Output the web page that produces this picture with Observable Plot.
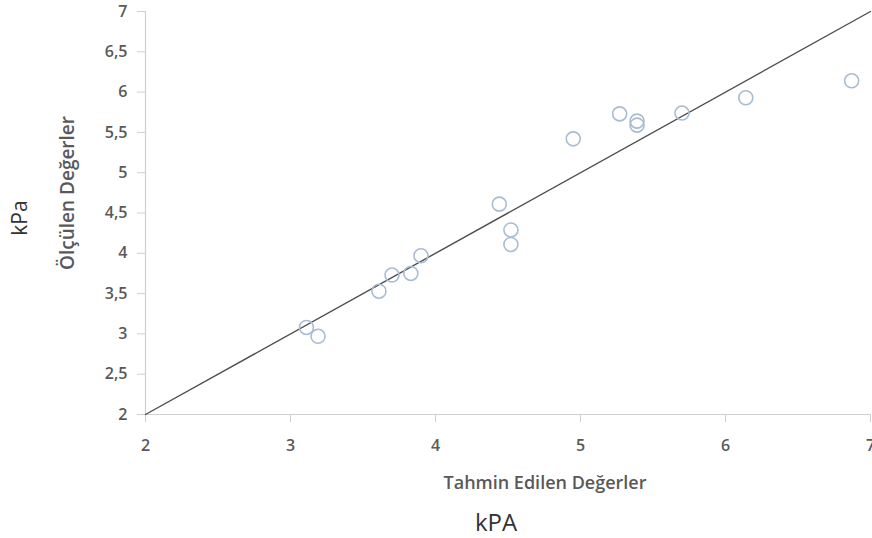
<!DOCTYPE html>
<html>
<head>
<meta charset="utf-8">
<script src="https://cdn.jsdelivr.net/npm/d3@7"></script>
<script src="https://cdn.jsdelivr.net/npm/@observablehq/plot@0.6"></script>
<style>
  html, body { margin: 0; padding: 0; background: white; }
</style>
</head>
<body>
<div id="chart"></div>
<script>
// Predicted values (Tahmin Edilen Değerler, kPA)
const predicted = [3.11, 3.19, 3.61, 3.70, 3.83, 3.90, 4.44, 4.52, 4.52, 4.95, 5.27, 5.39, 5.39, 5.70, 6.14, 6.87];
// Measured values (Ölçülen Değerler, kPa)
const measured  = [3.08, 2.97, 3.53, 3.73, 3.75, 3.97, 4.61, 4.29, 4.11, 5.42, 5.73, 5.64, 5.59, 5.74, 5.93, 6.14];
// 1:1 reference line endpoints
const refLine = [2, 7];
const xTicks = [2, 3, 4, 5, 6, 7];
const yTicks = [2, 2.5, 3, 3.5, 4, 4.5, 5, 5.5, 6, 6.5, 7];

const points = predicted.map((p, i) => ({x: p, y: measured[i]}));
const line = refLine.map(v => ({x: v, y: v}));

const axisColor = "#d0d0d0";
const labelColor = "#595959";

const chart = Plot.plot({
  width: 872,
  height: 538,
  marginLeft: 145,
  marginRight: 2,
  marginTop: 11,
  marginBottom: 124,
  style: {fontFamily: "'Open Sans', sans-serif", fontSize: "16px", color: labelColor, background: "white"},
  x: {domain: [2, 7]},
  y: {domain: [2, 7]},
  marks: [
    Plot.ruleX([2], {stroke: axisColor, strokeWidth: 1.2}),
    Plot.ruleY([2], {stroke: axisColor, strokeWidth: 1.2}),
    Plot.axisY({ticks: yTicks, tickSize: 8, tickPadding: 10, stroke: axisColor, fill: labelColor,
      tickFormat: d => String(d).replace(".", ","), label: null, fontSize: 16, fontWeight: 600}),
    Plot.axisX({ticks: xTicks, tickSize: 8, tickPadding: 17, stroke: axisColor, fill: labelColor,
      tickFormat: d => String(d), label: null, fontSize: 16, fontWeight: 600}),
    Plot.line(line, {x: "x", y: "y", stroke: "#4d4d4d", strokeWidth: 1.4}),
    Plot.dot(points, {x: "x", y: "y", r: 7, stroke: "#a9bcd0", strokeWidth: 1.6, fill: "none"}),
    Plot.text(["Ölçülen Değerler"], {frameAnchor: "left", textAnchor: "middle", lineAnchor: "middle",
      rotate: -90, dx: -78, dy: -20, fontSize: 19, fontWeight: 600, fill: labelColor}),
    Plot.text(["kPa"], {frameAnchor: "left", textAnchor: "middle", lineAnchor: "middle",
      rotate: -90, dx: -125, dy: 5, fontSize: 21, fill: "#333333"}),
    Plot.text(["Tahmin Edilen Değerler"], {frameAnchor: "bottom", textAnchor: "middle", lineAnchor: "middle",
      dx: 37, dy: 69, fontSize: 18, fontWeight: 600, fill: labelColor}),
    Plot.text(["kPA"], {frameAnchor: "bottom", textAnchor: "middle", lineAnchor: "middle",
      dx: -12, dy: 109, fontSize: 24, fill: "#333333"})
  ]
});
document.getElementById("chart").appendChild(chart);
</script>
</body>
</html>
